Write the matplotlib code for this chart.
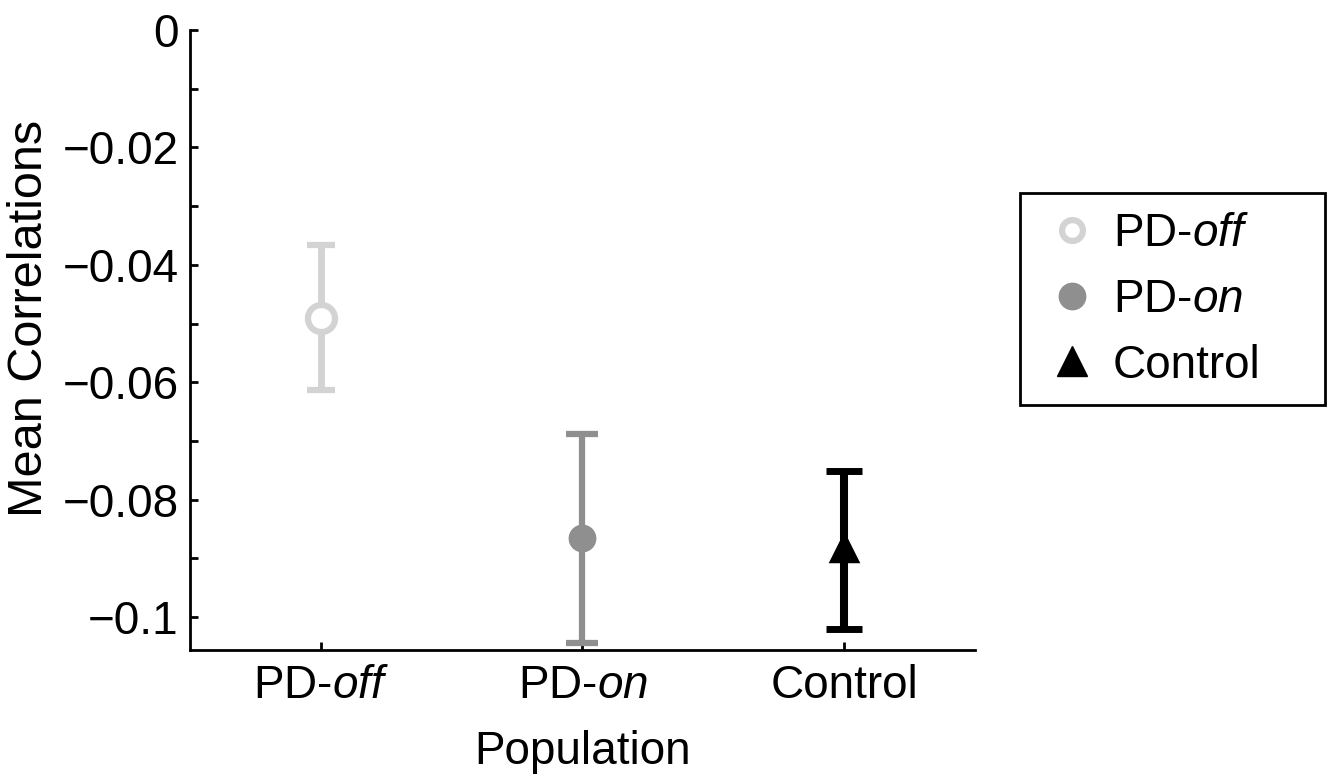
import matplotlib
matplotlib.use("Agg")
import matplotlib.pyplot as plt
from matplotlib.lines import Line2D
from matplotlib.patches import Rectangle
from matplotlib.ticker import MultipleLocator

plt.rcParams['font.family'] = ['Liberation Sans', 'DejaVu Sans']
plt.rcParams['mathtext.fontset'] = 'custom'
plt.rcParams['mathtext.rm'] = 'Liberation Sans'
plt.rcParams['mathtext.it'] = 'Liberation Sans:italic'

# data
groups = ["PD-off", "PD-on", "Control"]
group_labels = [r"PD-$\mathit{off}$", r"PD-$\mathit{on}$", "Control"]
means = [-0.0491, -0.0865, -0.0882]
upper = [-0.0366, -0.0688, -0.0751]
lower = [-0.0613, -0.1044, -0.1020]
colors = ["#d3d3d3", "#8f8f8f", "#000000"]
ytick_vals = [0, -0.02, -0.04, -0.06, -0.08, -0.1]
ytick_labels = ["0", "\u22120.02", "\u22120.04", "\u22120.06", "\u22120.08", "\u22120.1"]

fig = plt.figure(figsize=(13.34, 7.76), dpi=100)
ax = fig.add_axes([0.1424, 0.1624, 0.7309 - 0.1424, 0.9613 - 0.1624])

xs = [1, 2, 3]
bar_styles = [
    dict(lw=5.0, capsize=10, capthick=4.5),
    dict(lw=4.5, capsize=11.5, capthick=4.5),
    dict(lw=5.8, capsize=13, capthick=5.0),
]
marker_styles = [
    dict(marker='o', ms=19.5, mfc='white', mec=colors[0], mew=4.5),
    dict(marker='o', ms=19, mfc=colors[1], mec=colors[1], mew=1),
    dict(marker='^', ms=19, mfc=colors[2], mec=colors[2], mew=2.5),
]
for x, m, u, l, c, bs, ms_ in zip(xs, means, upper, lower, colors, bar_styles, marker_styles):
    ax.errorbar([x], [m], yerr=[[m - l], [u - m]], ecolor=c, fmt='none',
                elinewidth=bs['lw'], capsize=bs['capsize'], capthick=bs['capthick'],
                zorder=3)
    ax.plot([x], [m], ls='none', zorder=4, solid_joinstyle='round', **ms_)

ax.set_xlim(0.5, 3.5)
ax.set_ylim(-0.1056, 0)
ax.set_xticks(xs)
ax.set_xticklabels(group_labels, fontsize=33)
ax.set_yticks(ytick_vals)
ax.set_yticklabels(ytick_labels, fontsize=33)
ax.yaxis.set_minor_locator(MultipleLocator(0.01))
ax.tick_params(axis='both', direction='in', length=6, width=2, pad=8)
ax.tick_params(axis='y', which='minor', direction='in', length=6, width=2)
ax.tick_params(axis='x', pad=10)
for s in ['top', 'right']:
    ax.spines[s].set_visible(False)
for s in ['left', 'bottom']:
    ax.spines[s].set_linewidth(2)

ax.set_xlabel("Population", fontsize=33, labelpad=16)
fig.text(30 / 1334, 1 - 318 / 776, "Mean Correlations", fontsize=35, rotation=90,
         ha='center', va='center')

# legend
fig.patches.append(Rectangle((1020 / 1334, 1 - 405 / 776), 305 / 1334, 212 / 776,
                             transform=fig.transFigure, fill=False, ec='black', lw=2))
handles = [
    Line2D([], [], marker='o', ls='none', ms=15, mfc='white', mec=colors[0], mew=4.5),
    Line2D([], [], marker='o', ls='none', ms=19, mfc=colors[1], mec=colors[1]),
    Line2D([], [], marker='^', ls='none', ms=21, mfc=colors[2], mec=colors[2]),
]
leg = fig.legend(handles, group_labels, loc='center left', bbox_to_anchor=(1049 / 1334, 1 - 300 / 776),
                 fontsize=33, frameon=False, handlelength=1.0, handletextpad=0.39,
                 borderpad=0, labelspacing=0.47, borderaxespad=0)

fig.savefig("out.png", dpi=100)
